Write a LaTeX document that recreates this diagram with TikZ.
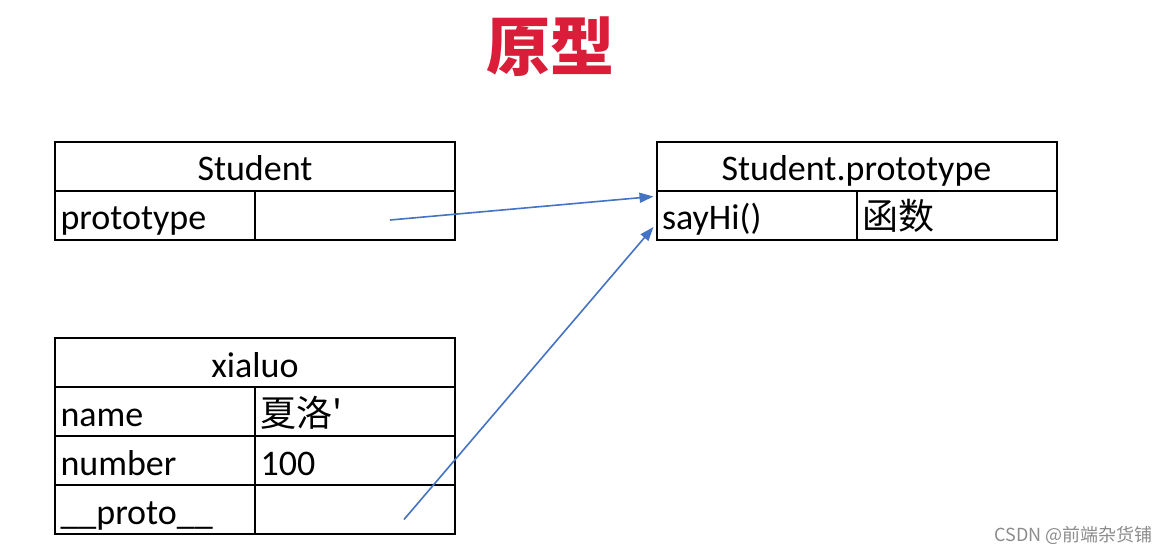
\documentclass[tikz,border=0pt]{standalone}
\usepackage{fontspec}
\setmainfont{Carlito}
\newfontfamily\cjk{Noto Sans CJK SC}
\usetikzlibrary{arrows.meta,positioning,calc}
\usepackage{xcolor}
\definecolor{titlered}{RGB}{218,30,58}
\definecolor{linkblue}{RGB}{68,114,196}

\begin{document}
\begin{tikzpicture}[x=1pt,y=-1pt,
  cell/.style={draw=black,line width=2pt,outer sep=0pt,minimum height=49pt,inner ysep=0pt,
    text height=31pt,text depth=2pt,font=\fontsize{36}{40}\selectfont},
  headcell/.style={cell,minimum width=400pt,inner xsep=0pt},
  rowcell/.style={cell,text width=189pt,inner xsep=5.5pt,align=left,anchor=north west},
  link/.style={draw=linkblue,line width=1.6pt,-{Triangle[length=14pt,width=10pt]}}]
  \useasboundingbox[fill=white] (0,0) rectangle (1170,555);
  \node[text=titlered,font=\cjk\bfseries\fontsize{64}{68}\selectfont] (title) at (550,47) {原型};
  % Student
  \node[headcell] (stu) at (255,166) {Student};
  \node[rowcell] (stuk) at (stu.south west) {prototype};
  \node[rowcell] (stuv) at (stuk.north east) {};
  % Student.prototype
  \node[headcell] (sp) at (856.5,166) {Student.prototype};
  \node[rowcell] (spk) at (sp.south west) {sayHi()};
  \node[rowcell] (spv) at (spk.north east) {\cjk 函数};
  % xialuo
  \node[headcell] (xl) at (255,362.5) {xialuo};
  \node[rowcell] (xlk1) at (xl.south west) {name};
  \node[rowcell] (xlv1) at (xlk1.north east) {\cjk 夏洛'};
  \foreach \i/\j/\k/\v in {2/1/number/100,3/2/\_\_proto\_\_/{}}{
    \node[rowcell] (xlk\i) at (xlk\j.south west) {\k};
    \node[rowcell] (xlv\i) at (xlk\i.north east) {\v};
  }
  % links to the prototype
  \coordinate (from1) at ($(stuv.center)+(35,5)$);
  \coordinate (from2) at ($(xlv3.center)+(49,10)$);
  \draw[link] (from1) -- ($(spk.north west)+(-3,6)$);
  \draw[link] (from2) -- ($(spk.west)+(-3,12)$);
  \node[anchor=east,text=black!45,font=\cjk\fontsize{18}{20}\selectfont] (mark) at (1156,535) {CSDN @前端杂货铺};
\end{tikzpicture}
\end{document}
